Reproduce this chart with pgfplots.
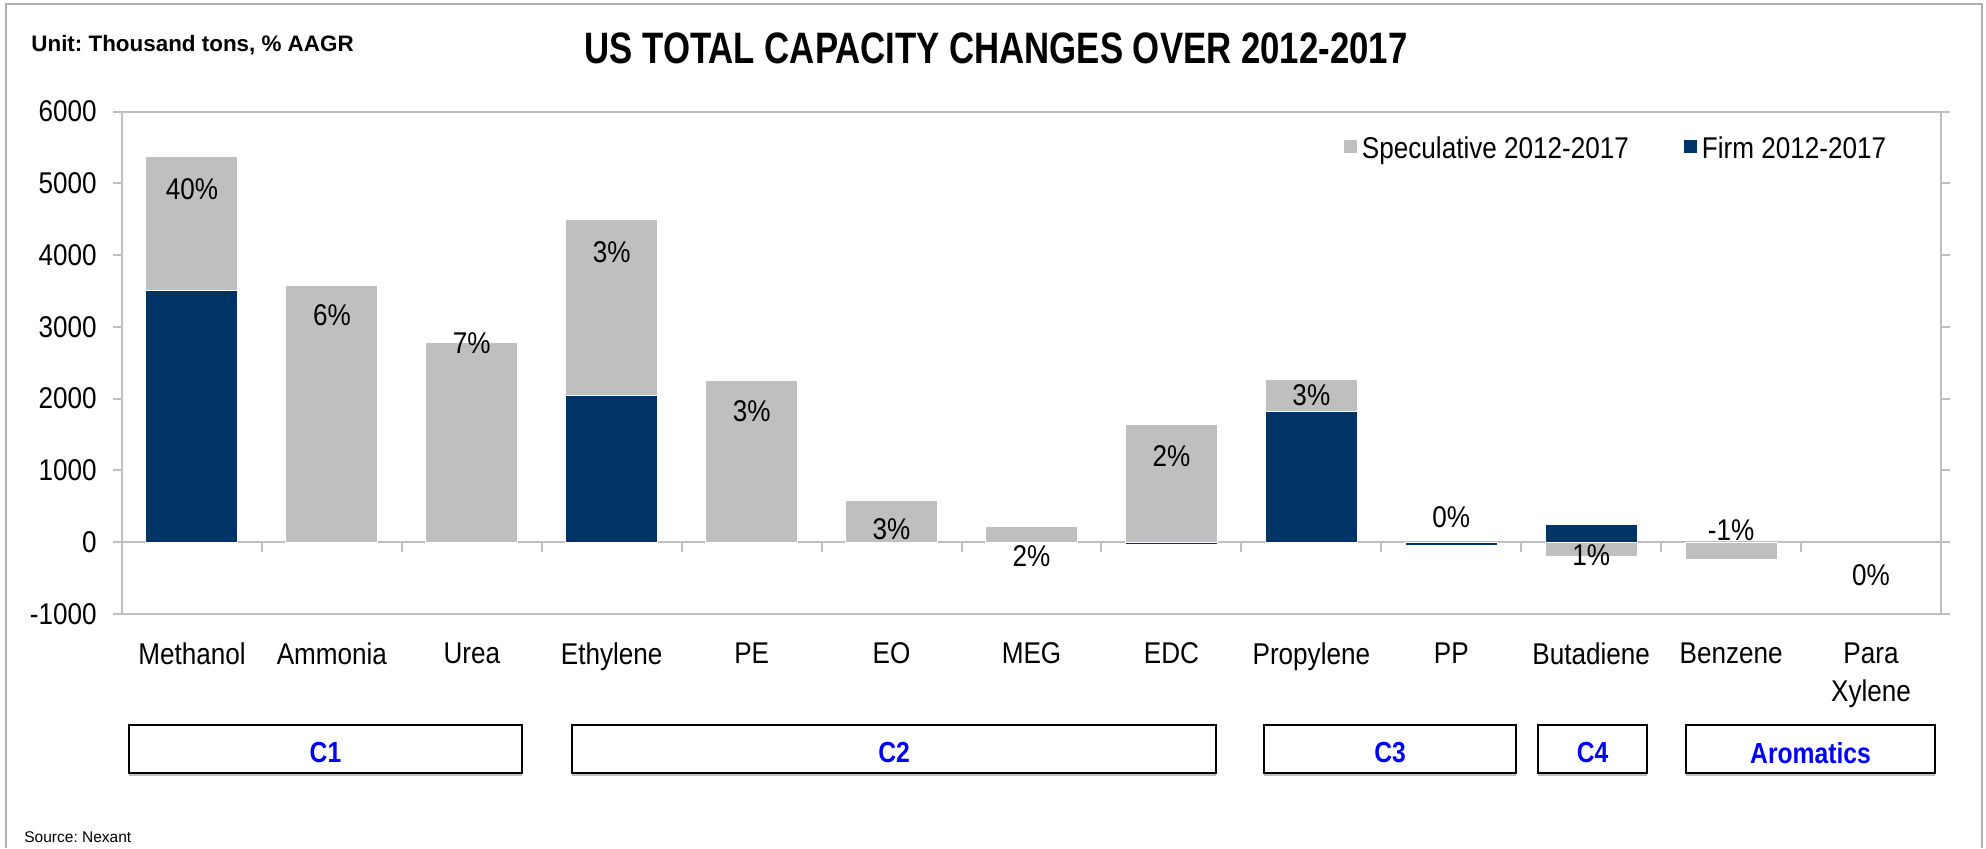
\documentclass[border=0pt]{standalone}
\usepackage{pgfplots}
\pgfplotsset{compat=1.18}
\usepackage{fontspec}
\setmainfont[FakeStretch=0.87]{Liberation Sans}
\newfontfamily\titlefont[FakeStretch=0.79]{Liberation Sans}
\newfontfamily\boxfont[FakeStretch=0.85]{Liberation Sans}
\newfontfamily\plainfont{Liberation Sans}
\definecolor{specgray}{RGB}{191,191,191}
\definecolor{firmnavy}{RGB}{0,51,102}
\definecolor{axgray}{RGB}{191,191,191}
\definecolor{bordergray}{RGB}{175,175,175}
\definecolor{boxblue}{RGB}{0,0,255}
\frenchspacing
\begin{document}
\begin{tikzpicture}[x=0.5pt,y=0.5pt]
\useasboundingbox (0,0) rectangle (1986,848);
% outer chart border
\draw[bordergray, line width=1pt] (6,0) -- (6,844) -- (1982,844) -- (1982,0);
% header texts
\node[anchor=base west, inner sep=0pt, font=\fontsize{11.2}{13}\plainfont\bfseries] at (31,796) {Unit: Thousand tons, \% AAGR};
\node[anchor=base, inner sep=0pt, font=\fontsize{22}{26}\titlefont\bfseries] at (996,784) {US TOTAL CAPACITY CHANGES OVER 2012-2017};
\node[anchor=base west, inner sep=0pt, font=\fontsize{7.75}{9}\plainfont] at (24,6) {Source: Nexant};
\begin{axis}[
  at={(61pt,117pt)}, anchor=south west,
  scale only axis, width=909.5pt, height=251.25pt,
  xmin=-0.5, xmax=12.5, ymin=-1000, ymax=6000,
  clip=false,
  xtick={0,...,12},
  xticklabels={Methanol,Ammonia,Urea,Ethylene,PE,EO,MEG,EDC,Propylene,PP,Butadiene,Benzene,{Para\\Xylene}},
  ytick={-1000,0,1000,2000,3000,4000,5000,6000},
  yticklabels={-1000,0,1000,2000,3000,4000,5000,6000},
  tick align=outside, major tick length=4.5pt,
  xtick style={draw=none},
  ytick style={axgray, line width=1pt},
  axis line style={axgray, line width=1pt},
  xticklabel style={font=\fontsize{15}{19}\selectfont, align=center, inner sep=0pt, anchor=north, yshift=-9.5pt},
  yticklabel style={font=\fontsize{15}{17}\selectfont, inner sep=0pt, anchor=east, xshift=-8pt},
  legend columns=2,
  legend style={draw=none, fill=none, at={(0.671,0.925)}, anchor=west, inner sep=0pt,
    font=\fontsize{15}{17}\selectfont,
    /tikz/every even column/.append style={column sep=25pt}},
  legend image code/.code={\fill[#1] (0pt,-2pt) rectangle (7pt,5pt);},
]
% category axis at zero with boundary ticks
\draw[axgray, line width=1pt] (axis cs:-0.5,0) -- (axis cs:12.5,0);
\pgfplotsinvokeforeach{-0.5,0.5,...,12.5}{\draw[axgray, line width=1pt] (axis cs:#1,0) -- ++(0pt,-5pt);}
% Speculative 2012-2017 (drawn as cumulative top of stack: firm + speculative)
\addplot[ybar, bar width=46pt, bar shift=0pt, fill=specgray, draw=white, line width=0.5pt]
  coordinates {(0,5370) (1,3580) (2,2780) (3,4490) (4,2250) (5,580) (6,225) (7,1640) (8,2270) (10,-195) (11,-237)};
\addlegendentry{Speculative 2012-2017}
% Firm 2012-2017
\addplot[ybar, bar width=46pt, bar shift=0pt, fill=firmnavy, draw=white, line width=0.5pt]
  coordinates {(0,3500) (3,2050) (7,-30) (8,1820) (9,-40) (10,250)};
\addlegendentry{Firm 2012-2017}
% AAGR labels
\addplot[forget plot, only marks, mark=none, nodes near coords, point meta=explicit symbolic,
  every node near coord/.append style={anchor=center, font=\fontsize{15}{17}\selectfont, inner sep=0pt}]
  coordinates {(0,4920) [40\%] (1,3160) [6\%] (2,2770) [7\%] (3,4040) [3\%] (4,1820) [3\%] (5,180) [3\%]
   (6,-195) [2\%] (7,1200) [2\%] (8,2055) [3\%] (9,350) [0\%] (10,-175) [1\%] (11,165) [-1\%] (12,-460) [0\%]};
\end{axis}
% group boxes
\foreach \a/\b/\t in {129/522/C1, 572/1216/C2, 1264/1516/C3, 1538/1647/C4, 1686/1935/Aromatics}{
  \draw[gray!50, line width=0.75pt] (\a,73) -- (\b,73);
  \draw[black, line width=1.25pt] (\a,75) rectangle (\b,123);
  \node[text=boxblue, font=\fontsize{14.5}{16}\boxfont\bfseries] at ({(\a+\b)/2},95) {\t};
}
\end{tikzpicture}
\end{document}
